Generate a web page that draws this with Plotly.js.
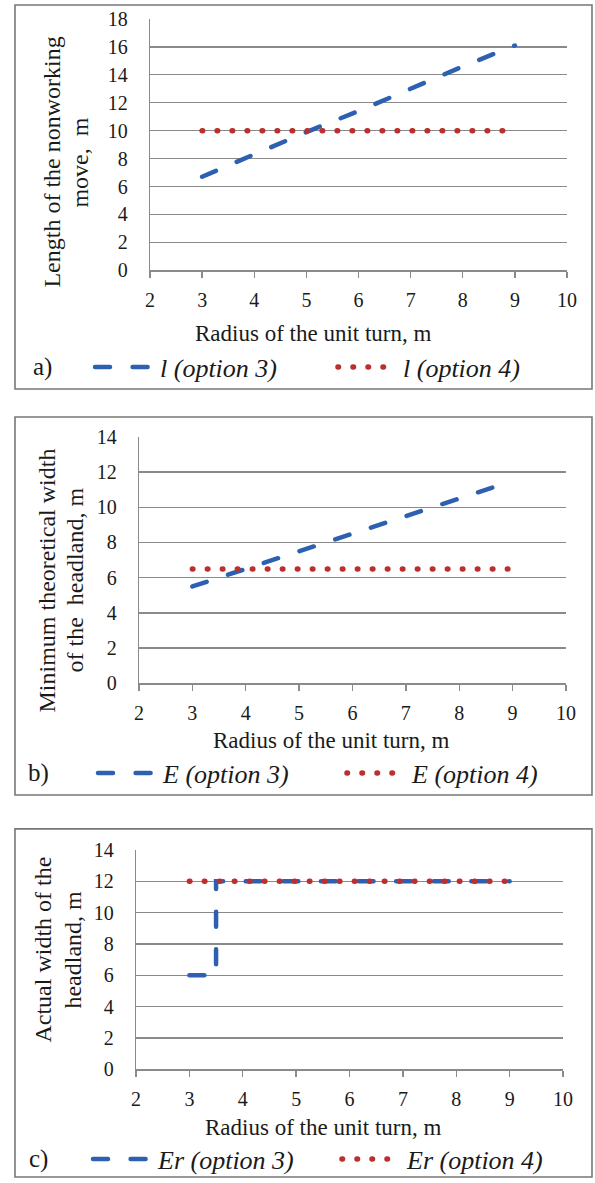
<!DOCTYPE html>
<html>
<head>
<meta charset="utf-8">
<script src="https://cdn.plot.ly/plotly-3.0.1.min.js"></script>
<style>
html, body { margin: 0; padding: 0; background: #fff; overflow: hidden; }
#chart { width: 595px; height: 1183px; }
.js-line { stroke-linecap: round; }
</style>
</head>
<body>
<div id="chart"></div>
<script>
// ---- data ----
const radius = [3, 4, 5, 6, 7, 8, 9];
const lOption3 = [6.7, 8.3, 9.9, 11.4, 13.0, 14.6, 16.1];
const lOption4 = [10, 10, 10, 10, 10, 10, 10];
const eOption3 = [5.5, 6.5, 7.5, 8.5, 9.5, 10.5, 11.5];
const eOption4 = [6.5, 6.5, 6.5, 6.5, 6.5, 6.5, 6.5];
const erRadius3 = [3, 3.5, 9];
const erOption3 = [6, 12, 12];
const erOption4 = [12, 12, 12, 12, 12, 12, 12];
const xTicks = [2, 3, 4, 5, 6, 7, 8, 9, 10];
const names = {
  a3: 'l (option 3)', a4: 'l (option 4)',
  b3: 'E (option 3)', b4: 'E (option 4)',
  c3: 'Er (option 3)', c4: 'Er (option 4)'
};

const W = 595, H = 1183;
const px = v => v / W;
const py = v => 1 - v / H;
const SERIF = "'Liberation Serif', 'Times New Roman', serif";
const BLUE = '#2D60B0';
const RED = '#BD2E2E';
const dashBlue = { color: BLUE, width: 4.5, dash: '15px,22.6px' };
const dotRed = { color: RED, width: 5.5, dash: '0.5px,14.5px' };

const traces = [
  { x: radius, y: lOption3, xaxis: 'x', yaxis: 'y', mode: 'lines', line: dashBlue, name: names.a3, legend: 'legend' },
  { x: radius, y: lOption4, xaxis: 'x', yaxis: 'y', mode: 'lines', line: dotRed, name: names.a4, legend: 'legend' },
  { x: radius, y: eOption3, xaxis: 'x2', yaxis: 'y2', mode: 'lines', line: dashBlue, name: names.b3, legend: 'legend2' },
  { x: radius, y: eOption4, xaxis: 'x2', yaxis: 'y2', mode: 'lines', line: dotRed, name: names.b4, legend: 'legend2' },
  { x: erRadius3, y: erOption3, xaxis: 'x3', yaxis: 'y3', mode: 'lines', line: Object.assign({ shape: 'hv' }, dashBlue), name: names.c3, legend: 'legend3' },
  { x: radius, y: erOption4, xaxis: 'x3', yaxis: 'y3', mode: 'lines', line: dotRed, name: names.c4, legend: 'legend3' }
];

function xAxis(domain, anchor) {
  return {
    domain: domain, anchor: anchor, range: [2, 10], tickvals: xTicks,
    showgrid: false, zeroline: false, showline: true, linecolor: '#8a8a8a', linewidth: 1.3,
    ticks: 'outside', ticklen: 6, tickwidth: 1.3, tickcolor: '#8a8a8a',
    tickfont: { family: SERIF, size: 20, color: '#1a1a1a' }, ticklabelstandoff: 5
  };
}
function yAxis(domain, anchor, max) {
  return {
    domain: domain, anchor: anchor, range: [0, max], dtick: 2,
    showgrid: true, gridcolor: '#8a8a8a', gridwidth: 1.3, zeroline: false,
    showline: true, linecolor: '#8a8a8a', linewidth: 1.3, ticks: '',
    tickfont: { family: SERIF, size: 20, color: '#1a1a1a' }, ticklabelstandoff: 17
  };
}
function legendBox(xLeft, yMid, entry) {
  return {
    orientation: 'h', x: px(xLeft), xanchor: 'left', y: py(yMid), yanchor: 'middle',
    font: { family: SERIF, size: 26, color: '#1a1a1a', style: 'italic' },
    bgcolor: 'rgba(0,0,0,0)', borderwidth: 0, itemwidth: 60,
    entrywidth: entry, entrywidthmode: 'pixels', traceorder: 'normal'
  };
}
function ann(text, x, y, size, angle) {
  return { text: text, x: px(x), y: py(y), xref: 'paper', yref: 'paper', showarrow: false,
    xanchor: 'center', yanchor: 'middle', textangle: angle || 0,
    font: { family: SERIF, size: size, color: '#1a1a1a' } };
}
function border(x0, y0, x1, y1) {
  return { type: 'rect', xref: 'paper', yref: 'paper', x0: px(x0), x1: px(x1), y0: py(y1), y1: py(y0),
    line: { color: '#777', width: 1.6 }, layer: 'below' };
}

const layout = {
  width: W, height: H, margin: { l: 0, r: 0, t: 0, b: 0 },
  paper_bgcolor: '#fff', plot_bgcolor: 'rgba(0,0,0,0)', showlegend: true,
  xaxis: xAxis([px(150), px(567)], 'y'),
  yaxis: yAxis([py(271), py(19)], 'x', 18),
  xaxis2: xAxis([px(139), px(566)], 'y2'),
  yaxis2: yAxis([py(685), py(438)], 'x2', 14),
  xaxis3: xAxis([px(136), px(563)], 'y3'),
  yaxis3: yAxis([py(1072), py(852)], 'x3', 14),
  xaxis4: {
    overlaying: 'x3', anchor: 'y3', range: [2, 10], tickvals: xTicks, showticklabels: false,
    showgrid: false, zeroline: false, showline: false,
    ticks: 'inside', ticklen: 6, tickwidth: 1.3, tickcolor: '#8a8a8a'
  },
  legend: legendBox(90, 368, 168),
  legend2: legendBox(93, 775, 174),
  legend3: legendBox(88, 1162, 174),
  shapes: [border(15, 5, 592, 390), border(15, 418, 592, 797), border(15, 831, 592, 1180)],
  annotations: [
    ann('Radius of the unit turn, m', 313, 334, 23),
    ann('Length of the nonworking', 52, 163, 24, -90),
    ann('move,  m', 80, 163, 24, -90),
    ann('a)', 42, 368, 25),
    ann('Radius of the unit turn, m', 331, 742, 23),
    ann('Minimum theoretical width', 47, 582, 24, -90),
    ann('of the  headland, m', 75, 582, 24, -90),
    ann('b)', 38, 775, 25),
    ann('Radius of the unit turn, m', 323, 1130, 23),
    ann('Actual width of the', 43, 952, 24, -90),
    ann('headland, m', 73, 952, 24, -90),
    ann('c)', 38, 1162, 25)
  ]
};

Plotly.newPlot('chart', traces, layout, { staticPlot: true, displayModeBar: false });
</script>
</body>
</html>
